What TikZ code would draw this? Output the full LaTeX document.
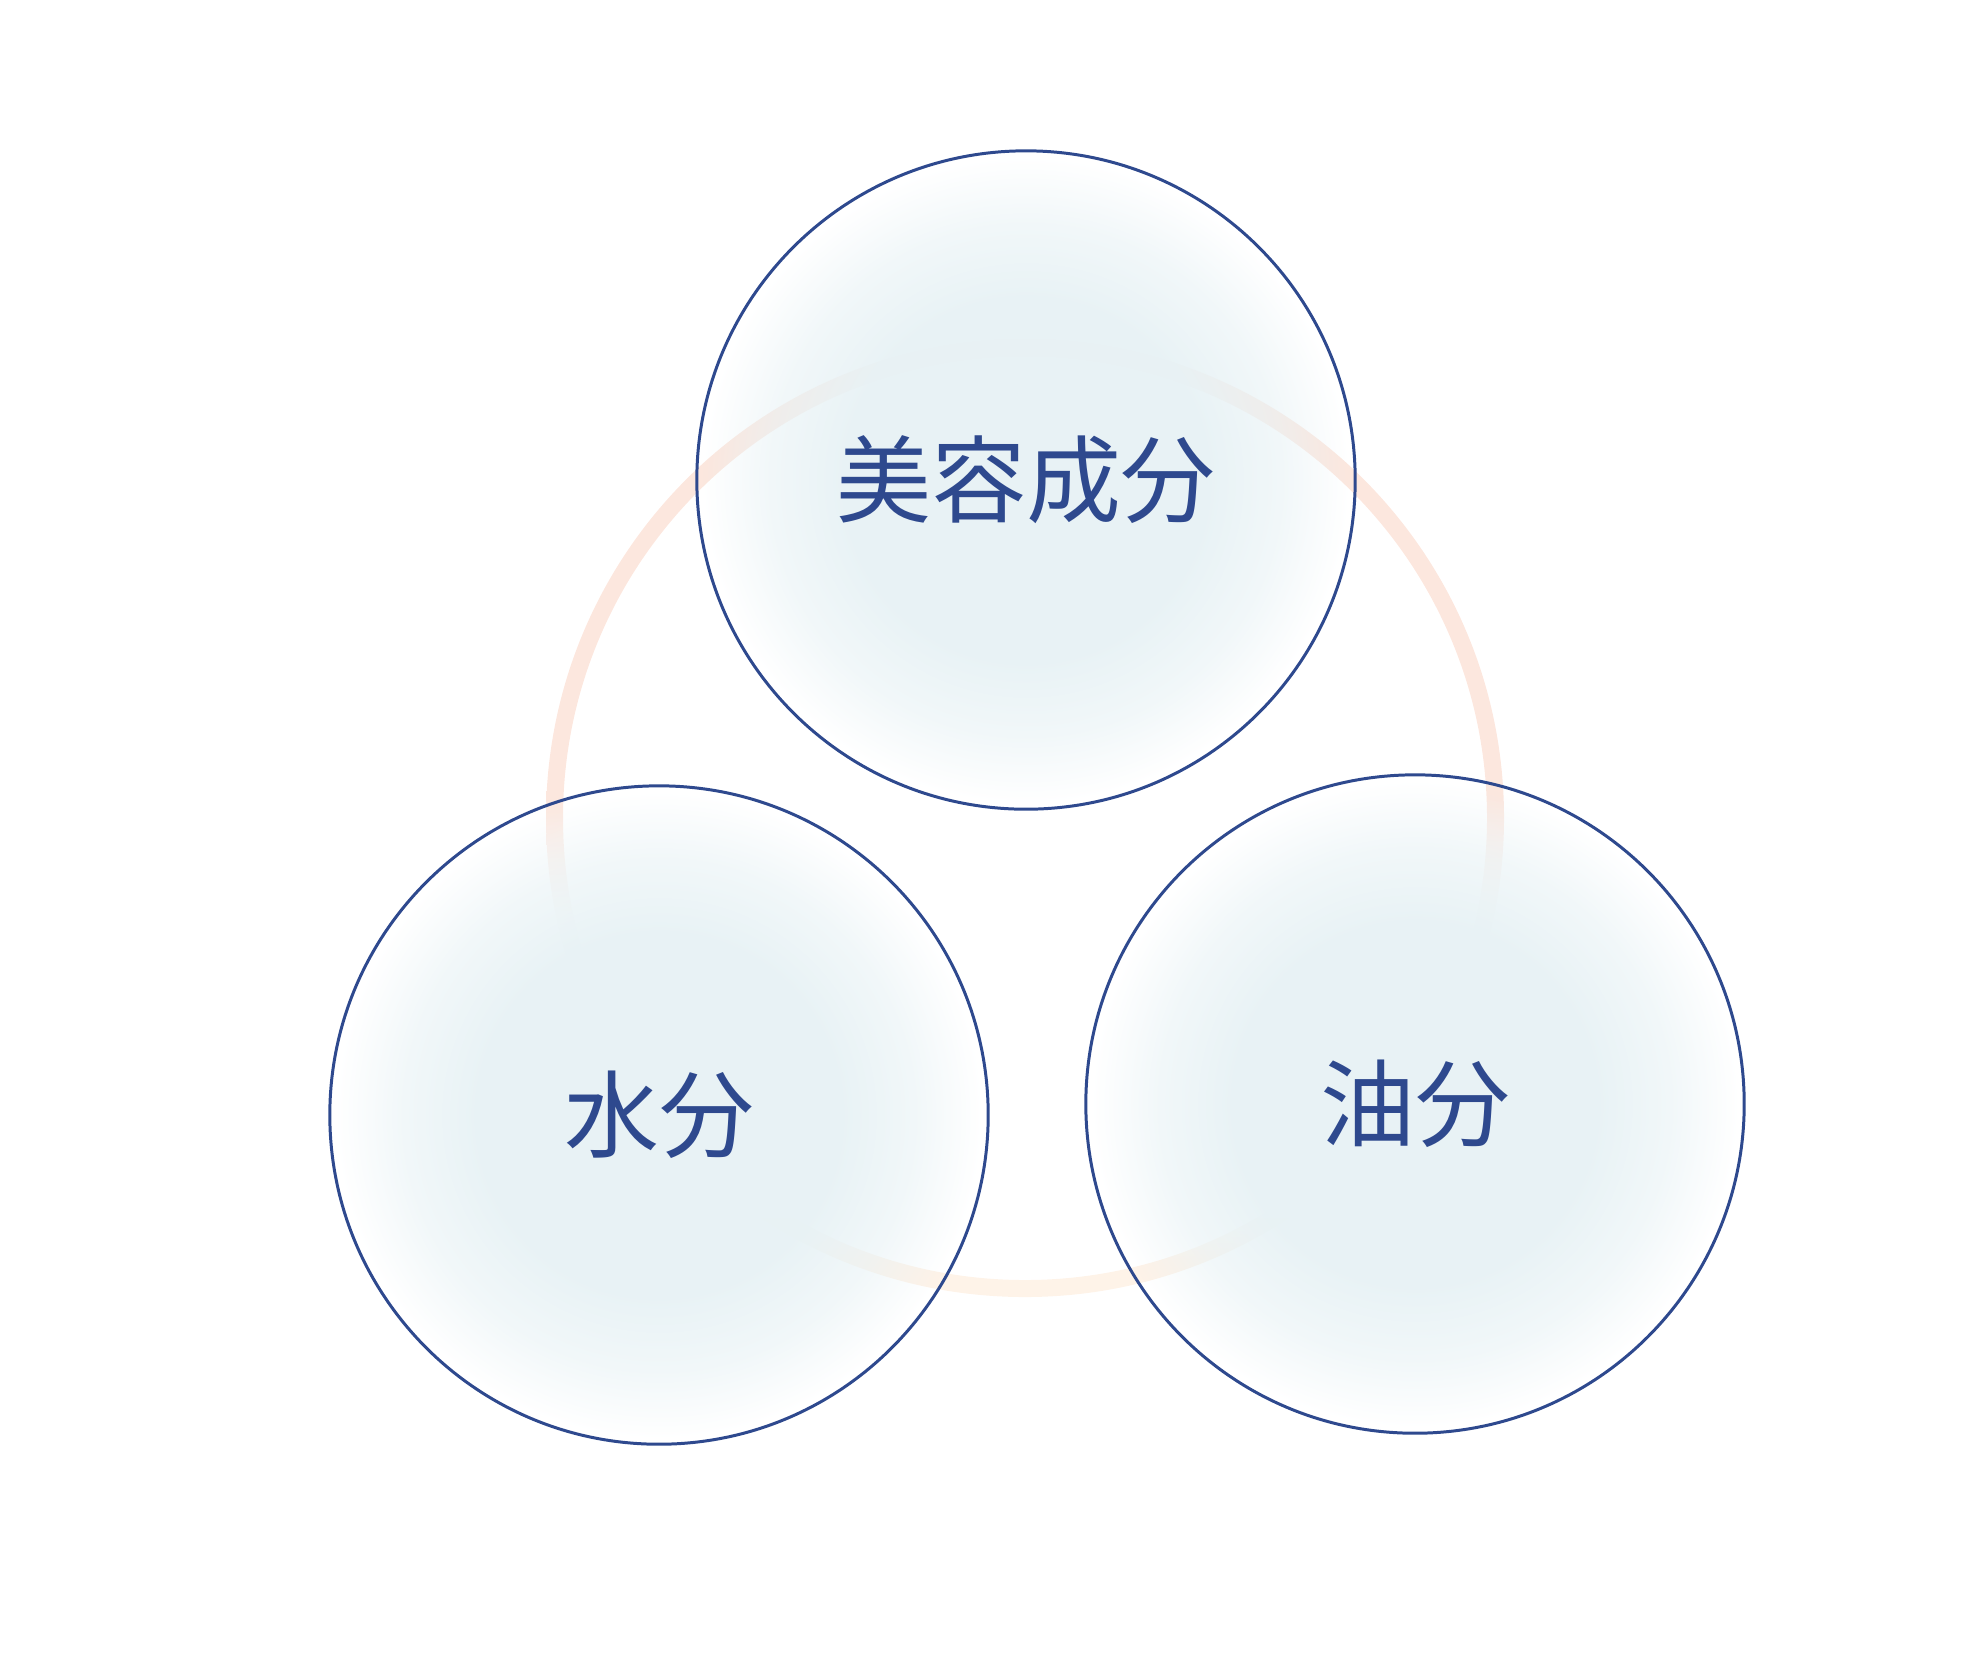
\documentclass[tikz,border=0pt]{standalone}
\usepackage{fontspec}
\newfontfamily\jpfont{Noto Sans CJK JP}
\usetikzlibrary{fadings}

\definecolor{ringtop}{RGB}{252,231,222}
\definecolor{ringbot}{RGB}{254,243,232}
\definecolor{bubblein}{RGB}{232,242,245}
\definecolor{bubbleline}{RGB}{46,73,142}

% soft ring: pink on top, gone at the sides, cream at the bottom
\pgfdeclareverticalshading{ringshade}{100bp}{color(0bp)=(ringbot); color(25bp)=(ringbot); color(27bp)=(ringbot); color(31bp)=(white); color(44bp)=(white); color(51bp)=(ringtop); color(100bp)=(ringtop)}
% blue core of each bubble, clear towards its rim
\pgfdeclareradialshading{bubblemask}{\pgfpointorigin}{color(0bp)=(pgftransparent!0); color(14bp)=(pgftransparent!0); color(19.5bp)=(pgftransparent!40); color(24.5bp)=(pgftransparent!100); color(50bp)=(pgftransparent!100)}
\pgfdeclarefading{bubblefade}{\pgfuseshading{bubblemask}}

\tikzset{
  bubble/.style={circle, draw=bubbleline, line width=0.85pt, minimum size=6.58cm, inner sep=0pt,
    text=bubbleline, font=\jpfont\fontsize{27pt}{30pt}\selectfont}
}

\begin{document}
\begin{tikzpicture}[x=0.01cm, y=-0.01cm]
\useasboundingbox (0,0) rectangle (1980,1653);
% define variables
\pgfmathparse{329}\let\r=\pgfmathresult

% ring behind the bubbles
\shade[shading=ringshade, even odd rule] (1025,818) circle (479) (1025,818) circle (462);

% fill bubbles
\foreach \x/\y in {1026/480, 659/1115, 1415/1104}{
	\fill[bubblein, fill opacity=0.98, path fading=bubblefade] (\x,\y) circle (\r);
}

% bubbles and text
\node[bubble] (beauty) at (1026,480) {美容成分};
\node[bubble] (water) at (659,1115) {水分};
\node[bubble] (oil) at (1415,1104) {油分};
\end{tikzpicture}
\end{document}
